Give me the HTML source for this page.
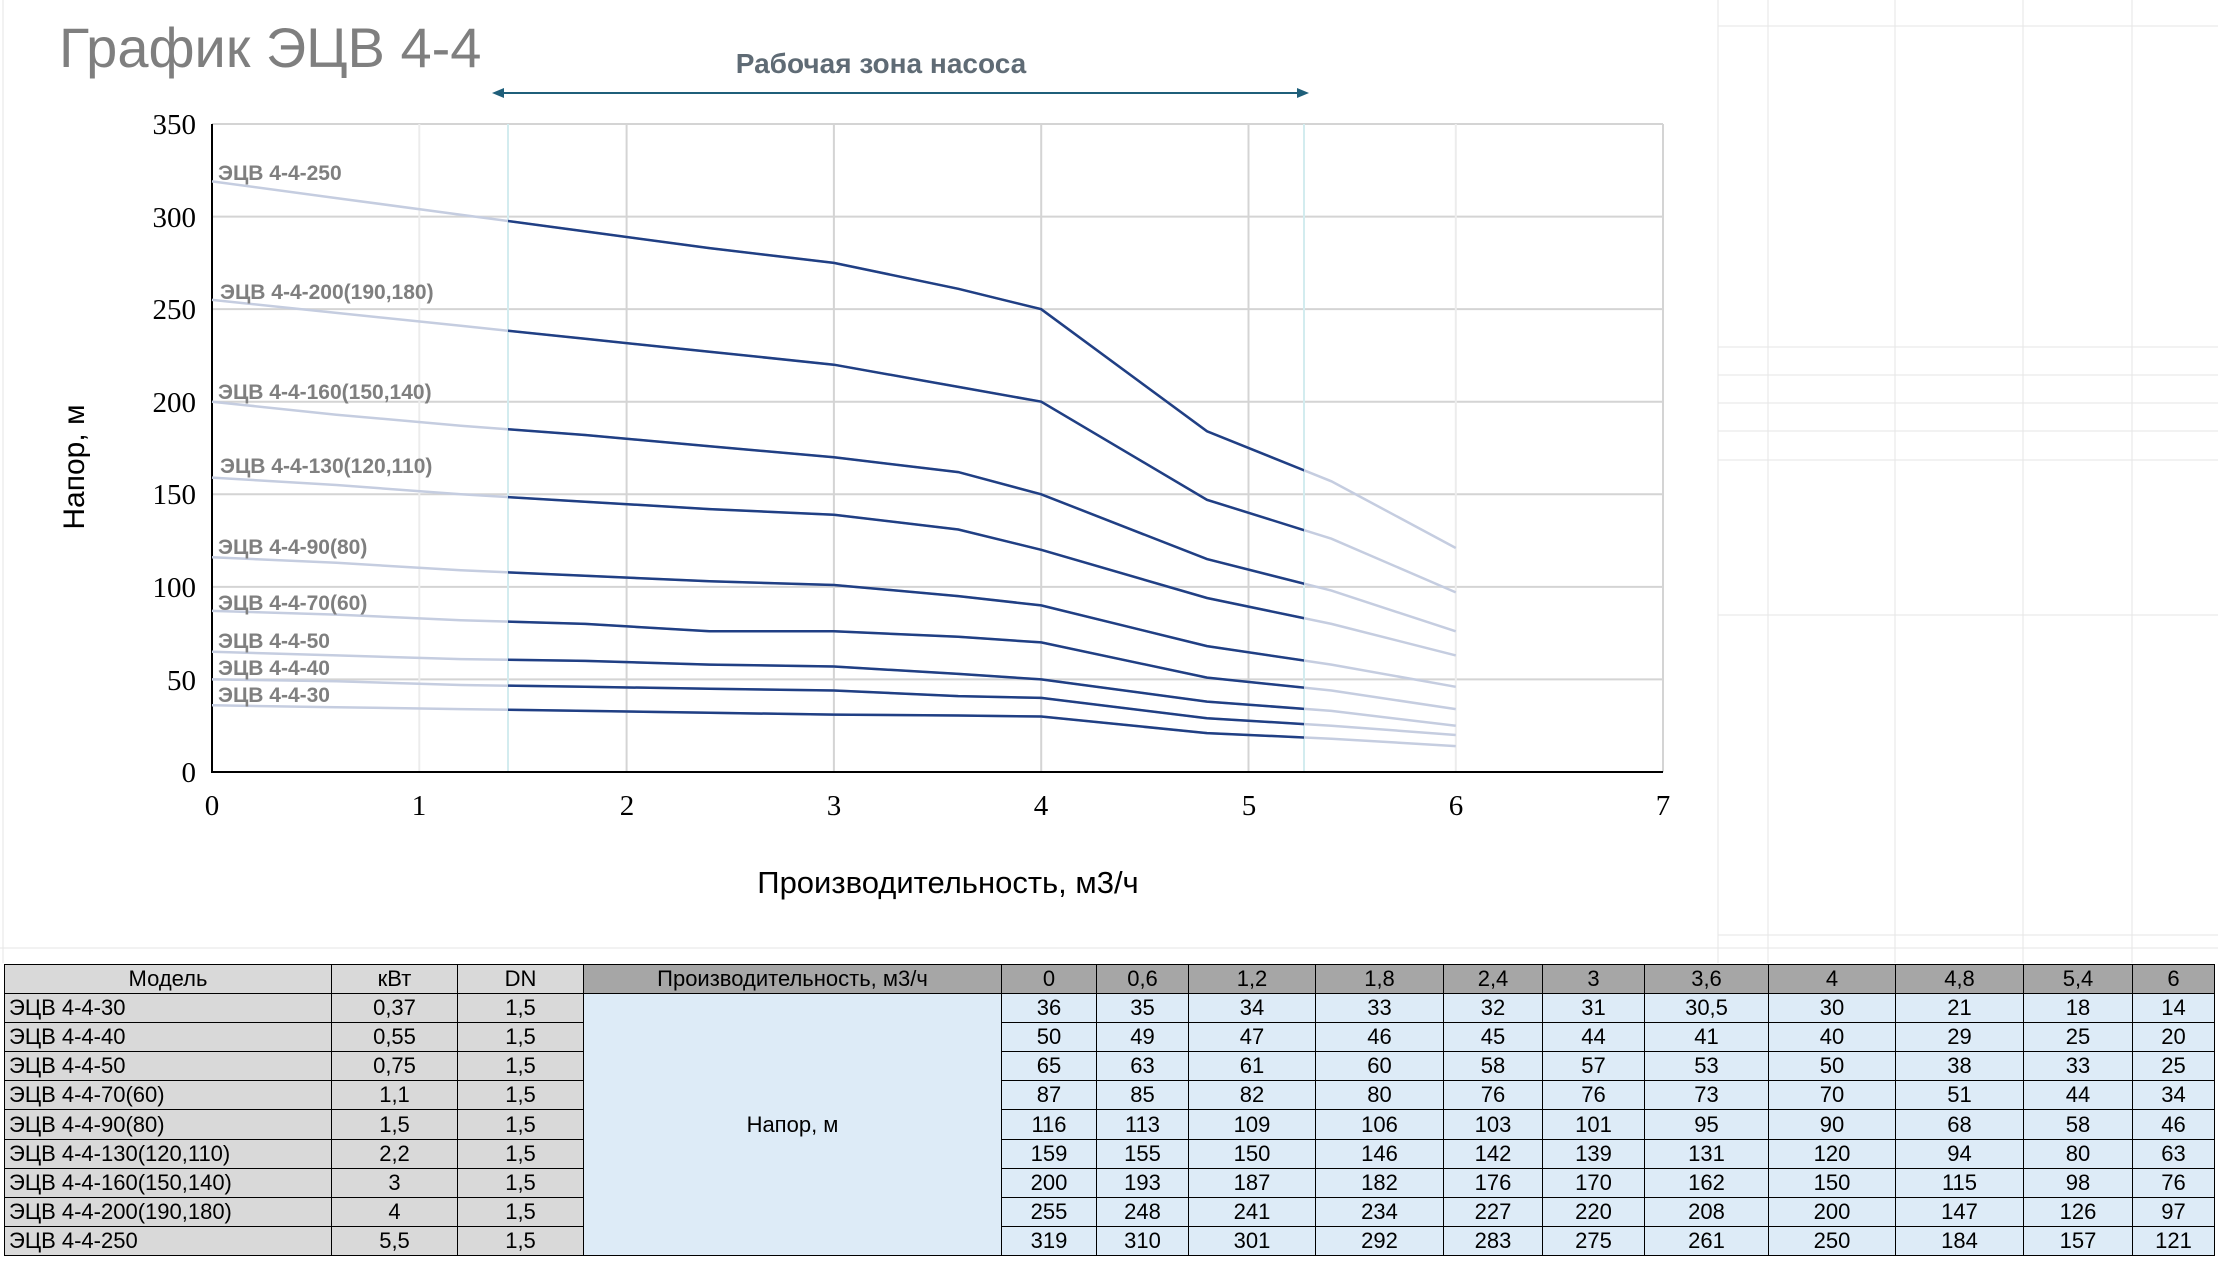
<!DOCTYPE html>
<html><head><meta charset="utf-8"><style>
html,body{margin:0;padding:0;background:#fff;}
body{width:2218px;height:1263px;position:relative;overflow:hidden;font-family:"Liberation Sans",sans-serif;}
table{position:absolute;left:4px;top:964px;border-collapse:collapse;font-family:"Liberation Sans Narrow","Liberation Sans",sans-serif;font-size:22px;color:#000;}
td{border:1.5px solid #000;height:28.1px;padding:0;text-align:center;background:#ddebf7;line-height:20px;}
td.m{text-align:left;padding-left:4px;background:#d9d9d9;}
td.g{background:#d9d9d9;}
tr.h td{background:#a6a6a6;}
tr.h td.g{background:#d9d9d9;}
</style></head><body>
<svg width="2218" height="963" style="position:absolute;left:0;top:0" font-family="Liberation Sans,sans-serif">
<g stroke="#e6e6e6" stroke-width="1">
<line x1="3" y1="0" x2="3" y2="963"/>
<line x1="1718" y1="0" x2="1718" y2="963"/><line x1="1768" y1="0" x2="1768" y2="963"/><line x1="1895" y1="0" x2="1895" y2="963"/><line x1="2023" y1="0" x2="2023" y2="963"/><line x1="2132" y1="0" x2="2132" y2="963"/>
<line x1="1718" y1="26" x2="2218" y2="26"/><line x1="1718" y1="347" x2="2218" y2="347"/><line x1="1718" y1="375" x2="2218" y2="375"/><line x1="1718" y1="403" x2="2218" y2="403"/><line x1="1718" y1="431" x2="2218" y2="431"/><line x1="1718" y1="460" x2="2218" y2="460"/><line x1="1718" y1="615" x2="2218" y2="615"/><line x1="1718" y1="935" x2="2218" y2="935"/>
<line x1="0" y1="948" x2="2218" y2="948"/>
</g>
<text x="59" y="67" font-size="56" fill="#7f7f7f">График ЭЦВ 4-4</text>
<text x="881" y="73" font-size="28" font-weight="bold" fill="#5f6b75" text-anchor="middle">Рабочая зона насоса</text>
<line x1="500" y1="93" x2="1300" y2="93" stroke="#1f5f7a" stroke-width="2"/>
<polygon points="492,93 504,88 504,98" fill="#1f5f7a"/>
<polygon points="1309,93 1297,88 1297,98" fill="#1f5f7a"/>
<g stroke="#d4d4d4" stroke-width="2">
<line x1="212" y1="124" x2="1663" y2="124"/><line x1="212" y1="216.6" x2="1663" y2="216.6"/><line x1="212" y1="309.1" x2="1663" y2="309.1"/><line x1="212" y1="401.7" x2="1663" y2="401.7"/><line x1="212" y1="494.3" x2="1663" y2="494.3"/><line x1="212" y1="586.9" x2="1663" y2="586.9"/><line x1="212" y1="679.4" x2="1663" y2="679.4"/>
<line x1="419.3" y1="124" x2="419.3" y2="772" stroke="#ececec"/><line x1="626.6" y1="124" x2="626.6" y2="772"/><line x1="833.9" y1="124" x2="833.9" y2="772"/><line x1="1041.2" y1="124" x2="1041.2" y2="772"/><line x1="1248.5" y1="124" x2="1248.5" y2="772"/><line x1="1455.8" y1="124" x2="1455.8" y2="772" stroke="#ececec"/><line x1="1663" y1="124" x2="1663" y2="772"/>
</g>
<line x1="508" y1="124" x2="508" y2="772" stroke="#d3ecef" stroke-width="2"/>
<line x1="1304" y1="124" x2="1304" y2="772" stroke="#d3ecef" stroke-width="2"/>
<line x1="212" y1="124" x2="212" y2="773" stroke="#000" stroke-width="2"/>
<line x1="211" y1="772" x2="1663" y2="772" stroke="#000" stroke-width="2"/>
<g font-family="Liberation Serif,serif" font-size="29" fill="#000" text-anchor="end">
<text x="196" y="134">350</text><text x="196" y="227">300</text><text x="196" y="319">250</text><text x="196" y="412">200</text><text x="196" y="504">150</text><text x="196" y="597">100</text><text x="196" y="690">50</text><text x="196" y="782">0</text>
</g>
<g font-family="Liberation Serif,serif" font-size="29" fill="#000" text-anchor="middle">
<text x="212" y="815">0</text><text x="419" y="815">1</text><text x="627" y="815">2</text><text x="834" y="815">3</text><text x="1041" y="815">4</text><text x="1249" y="815">5</text><text x="1456" y="815">6</text><text x="1663" y="815">7</text>
</g>
<text x="948" y="893" font-size="31" text-anchor="middle" fill="#000">Производительность, м3/ч</text>
<text transform="translate(84,467) rotate(-90)" font-size="30" text-anchor="middle" fill="#000">Напор, м</text>
<defs><clipPath id="c"><rect x="508" y="0" width="796" height="800"/></clipPath></defs>
<g id="lines" fill="none" stroke-width="2.5"></g>
<g font-size="21" font-weight="bold" fill="#7f7f7f">
<text x="218" y="180">ЭЦВ 4-4-250</text>
<text x="220" y="299">ЭЦВ 4-4-200(190,180)</text>
<text x="218" y="399">ЭЦВ 4-4-160(150,140)</text>
<text x="220" y="473">ЭЦВ 4-4-130(120,110)</text>
<text x="218" y="554">ЭЦВ 4-4-90(80)</text>
<text x="218" y="610">ЭЦВ 4-4-70(60)</text>
<text x="218" y="648">ЭЦВ 4-4-50</text>
<text x="218" y="675">ЭЦВ 4-4-40</text>
<text x="218" y="702">ЭЦВ 4-4-30</text>
</g>
</svg>
<table>
<colgroup><col style="width:327px"><col style="width:126px"><col style="width:126px"><col style="width:418px"><col style="width:95px"><col style="width:92px"><col style="width:127px"><col style="width:128px"><col style="width:99px"><col style="width:102px"><col style="width:124px"><col style="width:127px"><col style="width:128px"><col style="width:109px"><col style="width:82px"></colgroup>
<tr class="h"><td class="g">Модель</td><td class="g">кВт</td><td class="g">DN</td><td>Производительность, м3/ч</td><td>0</td><td>0,6</td><td>1,2</td><td>1,8</td><td>2,4</td><td>3</td><td>3,6</td><td>4</td><td>4,8</td><td>5,4</td><td>6</td></tr>
<tr><td class="m">ЭЦВ 4-4-30</td><td class="g">0,37</td><td class="g">1,5</td><td rowspan="9">Напор, м</td><td>36</td><td>35</td><td>34</td><td>33</td><td>32</td><td>31</td><td>30,5</td><td>30</td><td>21</td><td>18</td><td>14</td></tr>
<tr><td class="m">ЭЦВ 4-4-40</td><td class="g">0,55</td><td class="g">1,5</td><td>50</td><td>49</td><td>47</td><td>46</td><td>45</td><td>44</td><td>41</td><td>40</td><td>29</td><td>25</td><td>20</td></tr>
<tr><td class="m">ЭЦВ 4-4-50</td><td class="g">0,75</td><td class="g">1,5</td><td>65</td><td>63</td><td>61</td><td>60</td><td>58</td><td>57</td><td>53</td><td>50</td><td>38</td><td>33</td><td>25</td></tr>
<tr><td class="m">ЭЦВ 4-4-70(60)</td><td class="g">1,1</td><td class="g">1,5</td><td>87</td><td>85</td><td>82</td><td>80</td><td>76</td><td>76</td><td>73</td><td>70</td><td>51</td><td>44</td><td>34</td></tr>
<tr><td class="m">ЭЦВ 4-4-90(80)</td><td class="g">1,5</td><td class="g">1,5</td><td>116</td><td>113</td><td>109</td><td>106</td><td>103</td><td>101</td><td>95</td><td>90</td><td>68</td><td>58</td><td>46</td></tr>
<tr><td class="m">ЭЦВ 4-4-130(120,110)</td><td class="g">2,2</td><td class="g">1,5</td><td>159</td><td>155</td><td>150</td><td>146</td><td>142</td><td>139</td><td>131</td><td>120</td><td>94</td><td>80</td><td>63</td></tr>
<tr><td class="m">ЭЦВ 4-4-160(150,140)</td><td class="g">3</td><td class="g">1,5</td><td>200</td><td>193</td><td>187</td><td>182</td><td>176</td><td>170</td><td>162</td><td>150</td><td>115</td><td>98</td><td>76</td></tr>
<tr><td class="m">ЭЦВ 4-4-200(190,180)</td><td class="g">4</td><td class="g">1,5</td><td>255</td><td>248</td><td>241</td><td>234</td><td>227</td><td>220</td><td>208</td><td>200</td><td>147</td><td>126</td><td>97</td></tr>
<tr><td class="m">ЭЦВ 4-4-250</td><td class="g">5,5</td><td class="g">1,5</td><td>319</td><td>310</td><td>301</td><td>292</td><td>283</td><td>275</td><td>261</td><td>250</td><td>184</td><td>157</td><td>121</td></tr>
</table>
<script>
var xs=[0,0.6,1.2,1.8,2.4,3,3.6,4,4.8,5.4,6];
var d=[[36,35,34,33,32,31,30.5,30,21,18,14],[50,49,47,46,45,44,41,40,29,25,20],[65,63,61,60,58,57,53,50,38,33,25],[87,85,82,80,76,76,73,70,51,44,34],[116,113,109,106,103,101,95,90,68,58,46],[159,155,150,146,142,139,131,120,94,80,63],[200,193,187,182,176,170,162,150,115,98,76],[255,248,241,234,227,220,208,200,147,126,97],[319,310,301,292,283,275,261,250,184,157,121]];
var g=document.getElementById('lines'),h='';
d.forEach(function(r){var p=r.map(function(v,i){return (212+xs[i]*207.3).toFixed(1)+','+(772-v*1.8514).toFixed(1)}).join(' ');
h+='<polyline points="'+p+'" stroke="#c5cde0"/><polyline points="'+p+'" stroke="#203f84" clip-path="url(#c)"/>';});
g.innerHTML=h;
</script>
</body></html>
